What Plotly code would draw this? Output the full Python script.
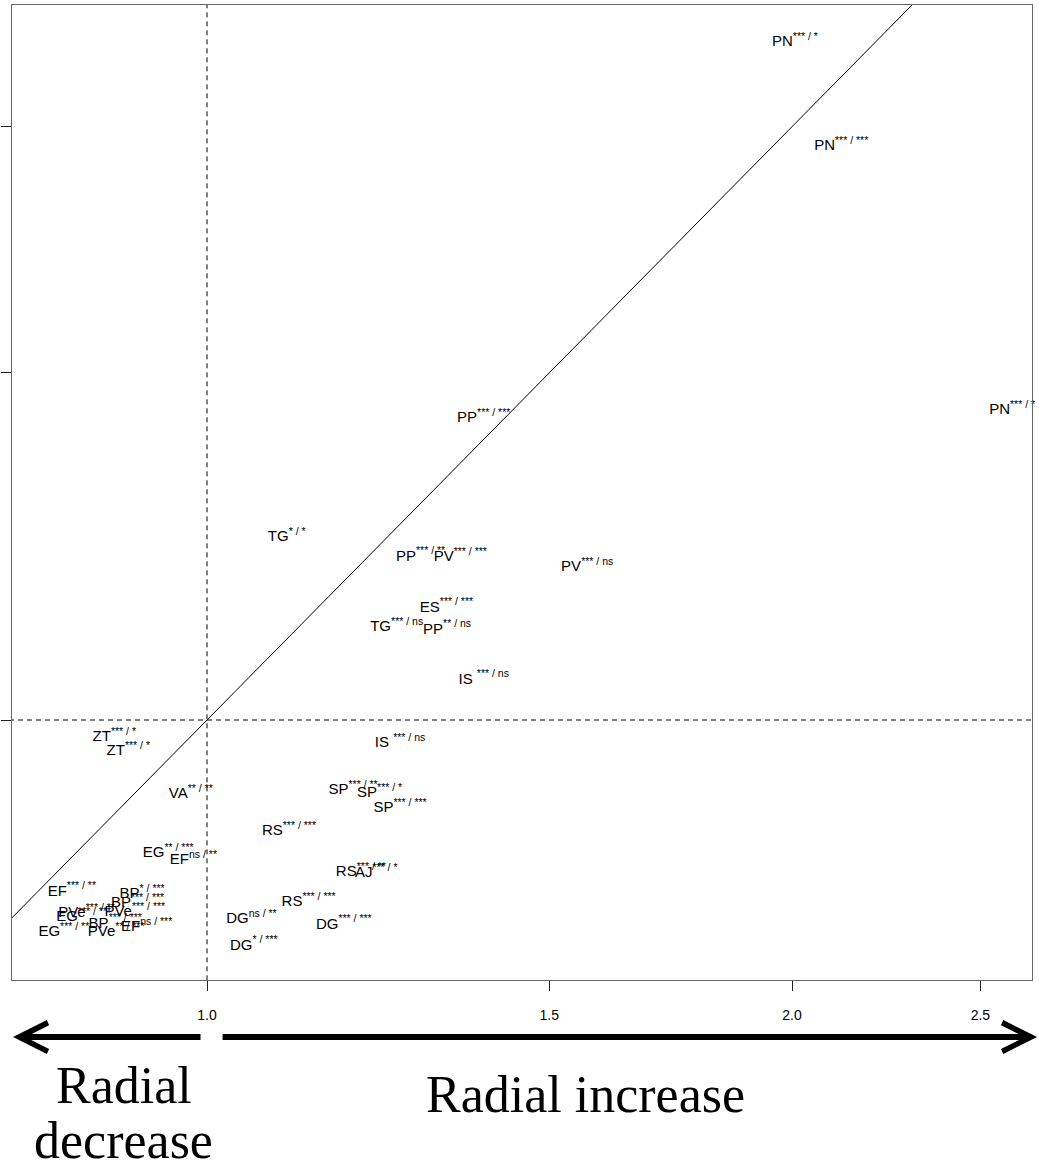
import math
import plotly.graph_objects as go

# ---------------- data ----------------
species = ["PN", "PN", "PN", "PP", "TG", "PP", "PV", "PV", "ES", "TG", "PP", "IS",
           "IS", "SP", "SP", "SP", "RS", "RS", "AJ", "RS", "DG", "DG", "DG",
           "ZT", "ZT", "VA", "EG", "EF", "EF", "BP", "BP", "PVe", "EF", "PVe",
           "EG", "EG", "BP", "PVe"]
signif = ["*** / *", "*** / ***", "*** / *", "*** / ***", "* / *", "*** / **", "*** / ***",
          "*** / ns", "*** / ***", "*** / ns", "** / ns", "*** / ns",
          "*** / ns", "*** / **", "*** / *", "*** / ***", "*** / ***", "*** / **", "*** / *",
          "*** / ***", "ns / **", "*** / ***", "* / ***",
          "*** / *", "*** / *", "** / **", "** / ***", "ns / **", "*** / **", "* / ***",
          "*** / ***", "*** / ***", "ns / ***", "*** / **",
          "*** / ***", "*** / **", "*** / ***", "** / ***"]
ratio_x = [2.007, 2.120, 2.596, 1.388, 1.099, 1.288, 1.350, 1.569, 1.328, 1.252, 1.329, 1.388,
           1.257, 1.189, 1.227, 1.257, 1.102, 1.200, 1.222, 1.128, 1.054, 1.176, 1.057,
           0.896, 0.911, 0.981, 0.955, 0.984, 0.852, 0.926, 0.921, 0.918, 0.931, 0.867,
           0.864, 0.844, 0.897, 0.898]
ratio_y = [2.207, 1.955, 1.436, 1.422, 1.238, 1.210, 1.209, 1.195, 1.140, 1.114, 1.111, 1.048,
           0.973, 0.921, 0.918, 0.902, 0.878, 0.837, 0.836, 0.808, 0.792, 0.787, 0.768,
           0.980, 0.964, 0.917, 0.856, 0.849, 0.818, 0.816, 0.807, 0.799, 0.785, 0.798,
           0.794, 0.780, 0.788, 0.780]
label_gap = [" " if s == "IS" else "" for s in species]

x_ticks = [1.0, 1.5, 2.0, 2.5]
x_tick_text = ["1.0", "1.5", "2.0", "2.5"]
y_ticks = [1.0, 1.5, 2.0]
identity = [0.5, 3.0]          # y = x reference line
unity = 1.0                    # no-change reference

x_range = [-0.10034, 0.42451]  # log10
y_range = [-0.13191, 0.36276]  # log10

fig = go.Figure()

# y = x line
fig.add_trace(go.Scatter(x=identity, y=identity, mode="lines",
                         line=dict(color="black", width=1), hoverinfo="skip"))
# dashed reference lines at 1
fig.add_trace(go.Scatter(x=[unity, unity], y=[0.5, 3.0], mode="lines",
                         line=dict(color="black", width=1, dash="5px,4px"), hoverinfo="skip"))
fig.add_trace(go.Scatter(x=[0.5, 3.0], y=[unity, unity], mode="lines",
                         line=dict(color="black", width=1, dash="5px,4px"), hoverinfo="skip"))

texts = [f"{s}{g}<sup>{sig}</sup>" for s, g, sig in zip(species, label_gap, signif)]
fig.add_trace(go.Scatter(x=ratio_x, y=ratio_y, mode="text", text=texts,
                         textposition="middle center", cliponaxis=False,
                         textfont=dict(family="Liberation Sans, Arial, sans-serif", size=15, color="black"),
                         hoverinfo="skip"))

# dark axis segments (R-style axis lines between extreme ticks)
shapes = [
    dict(type="line", xref="paper", yref="y", x0=0, x1=0,
         y0=math.log10(y_ticks[0]), y1=math.log10(y_ticks[-1]),
         line=dict(color="#222", width=2)),
    dict(type="line", xref="x", yref="paper", x0=x_range[0], x1=math.log10(x_ticks[-1]),
         y0=0, y1=0, line=dict(color="#222", width=2)),
]

serif = "Liberation Serif, Times New Roman, serif"
annotations = [
    # arrows
    dict(xref="paper", yref="paper", x=0.001, y=-0.0585, ax=189, ay=0, axref="pixel", ayref="pixel",
         text="", showarrow=True, arrowhead=5, arrowsize=0.94, arrowwidth=6, arrowcolor="black"),
    dict(xref="paper", yref="paper", x=1.005, y=-0.0585, ax=-816, ay=0, axref="pixel", ayref="pixel",
         text="", showarrow=True, arrowhead=5, arrowsize=0.94, arrowwidth=6, arrowcolor="black"),
    dict(xref="paper", yref="paper", x=0.1098, y=-0.1082, text="Radial",
         showarrow=False, xanchor="center", yanchor="middle",
         font=dict(family=serif, size=52, color="black")),
    dict(xref="paper", yref="paper", x=0.1098, y=-0.1651, text="decrease",
         showarrow=False, xanchor="center", yanchor="middle",
         font=dict(family=serif, size=52, color="black")),
    dict(xref="paper", yref="paper", x=0.5618, y=-0.1174, text="Radial increase",
         showarrow=False, xanchor="center", yanchor="middle",
         font=dict(family=serif, size=52, color="black")),
]

fig.update_layout(
    width=1039, height=1166,
    margin=dict(l=12, r=7, t=5, b=186),
    paper_bgcolor="white", plot_bgcolor="white",
    showlegend=False,
    hovermode=False,
    shapes=shapes,
    annotations=annotations,
    xaxis=dict(type="log", range=x_range, tickvals=x_ticks, ticktext=x_tick_text,
               ticks="outside", ticklen=10, tickcolor="#222", tickwidth=1,
               ticklabelstandoff=12, automargin=False,
               tickfont=dict(family="Liberation Sans Narrow, Arial Narrow, Liberation Sans", size=14, color="black"),
               showgrid=False, zeroline=False,
               showline=True, mirror=True, linecolor="#666", linewidth=1),
    yaxis=dict(type="log", range=y_range, tickvals=y_ticks, showticklabels=False,
               ticks="outside", ticklen=10, tickcolor="#222", tickwidth=1, automargin=False,
               showgrid=False, zeroline=False,
               showline=True, mirror=True, linecolor="#666", linewidth=1),
)

fig.write_html("out.html",
               config={"displayModeBar": False, "staticPlot": True},
               post_script="document.body.style.margin='0';document.body.style.overflow='hidden';")
